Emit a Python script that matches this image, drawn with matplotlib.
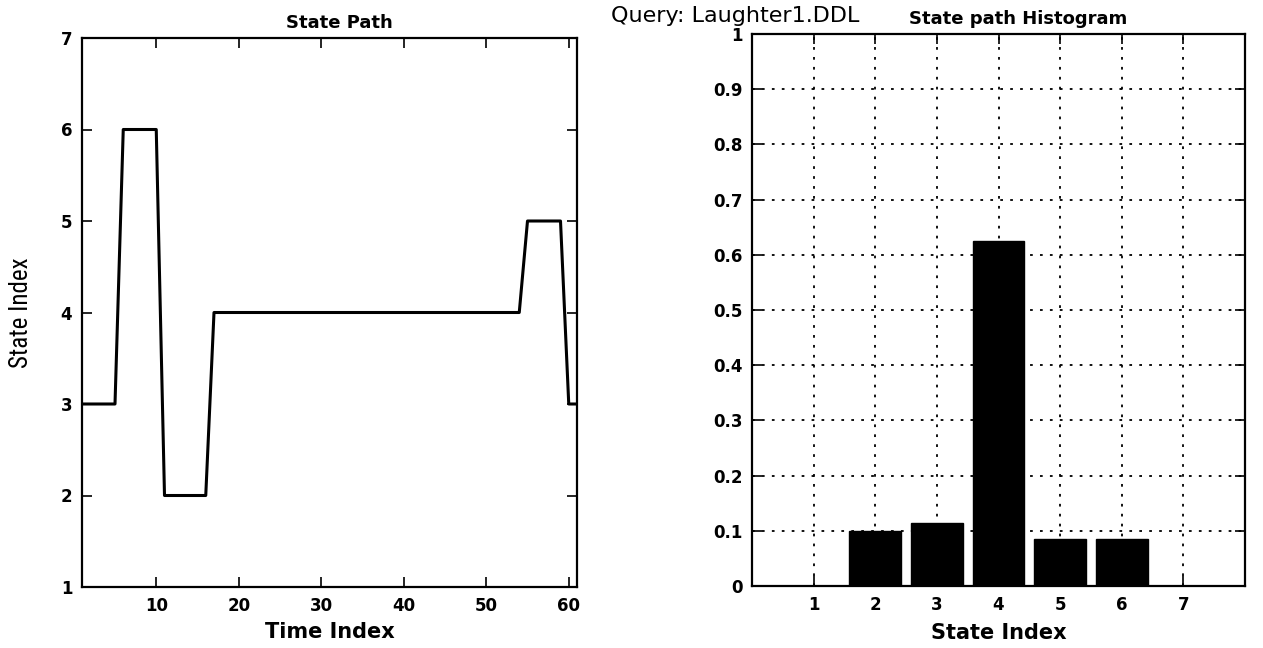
import matplotlib
matplotlib.use("Agg")
import matplotlib.pyplot as plt
import numpy as np

# ---- data ----
time_index = list(range(1, 62))
state_path = ([3] * 5 + [6] * 5 + [2] * 6 + [4] * 38 + [5] * 5 + [3] * 2)

hist_states = [1, 2, 3, 4, 5, 6, 7]
hist_values = [0.0, 0.10, 0.115, 0.625, 0.085, 0.085, 0.0]

left_yticks = [1, 2, 3, 4, 5, 6, 7]
left_xticks = [10, 20, 30, 40, 50, 60]
right_yticks = [0, 0.1, 0.2, 0.3, 0.4, 0.5, 0.6, 0.7, 0.8, 0.9, 1]
right_yticklabels = ["0", "0.1", "0.2", "0.3", "0.4", "0.5", "0.6", "0.7", "0.8", "0.9", "1"]

W, H = 1263, 648
fig = plt.figure(figsize=(W / 100, H / 100), dpi=100)

TICK_FS = 12

def frac(l, r, t, b):
    return [l / W, 1 - b / H, (r - l) / W, (b - t) / H]

def style_axes(ax):
    ax.tick_params(direction="in", length=7, width=1.2, top=True, right=True, pad=7)
    for lab in ax.get_xticklabels() + ax.get_yticklabels():
        lab.set_fontsize(TICK_FS)
        lab.set_fontweight("bold")
    for s in ax.spines.values():
        s.set_linewidth(1.6)

# ---- left: state path ----
ax1 = fig.add_axes(frac(82, 577, 38, 587))
ax1.plot(time_index, state_path, color="black", linewidth=2.2)
ax1.set_xlim(1, 61)
ax1.set_ylim(1, 7)
ax1.set_xticks(left_xticks)
ax1.set_yticks(left_yticks)
style_axes(ax1)
t1 = ax1.set_title("State Path", fontsize=13, fontweight="bold", pad=7)
t1.set_x(0.52)
ax1.set_xlabel("Time Index", fontsize=15, fontweight="bold", labelpad=5)
ax1.set_ylabel("State Index", fontsize=18,
               family=["Liberation Sans Narrow", "DejaVu Sans Condensed",
                       "Roboto Condensed", "DejaVu Sans"],
               labelpad=20)

# ---- right: histogram ----
ax2 = fig.add_axes(frac(752, 1245, 34, 586))
ax2.set_axisbelow(True)
ax2.grid(True, color="black", linestyle=(0, (1.5, 4)), linewidth=1.3)
ax2.bar(hist_states, hist_values, width=0.84, color="black", edgecolor="black")
ax2.set_xlim(0, 8)
ax2.set_ylim(0, 1)
ax2.set_xticks(hist_states)
ax2.set_yticks(right_yticks)
ax2.set_yticklabels(right_yticklabels)
style_axes(ax2)
t2 = ax2.set_title("State path Histogram", fontsize=13, fontweight="bold", pad=7)
t2.set_x(0.54)
ax2.set_xlabel("State Index", fontsize=15, fontweight="bold", labelpad=7)

fig.text(735 / W, 1 - 16 / H, "Query: Laughter1.DDL", fontsize=16,
         ha="center", va="center")

fig.savefig("out.png", dpi=100, facecolor="white")
